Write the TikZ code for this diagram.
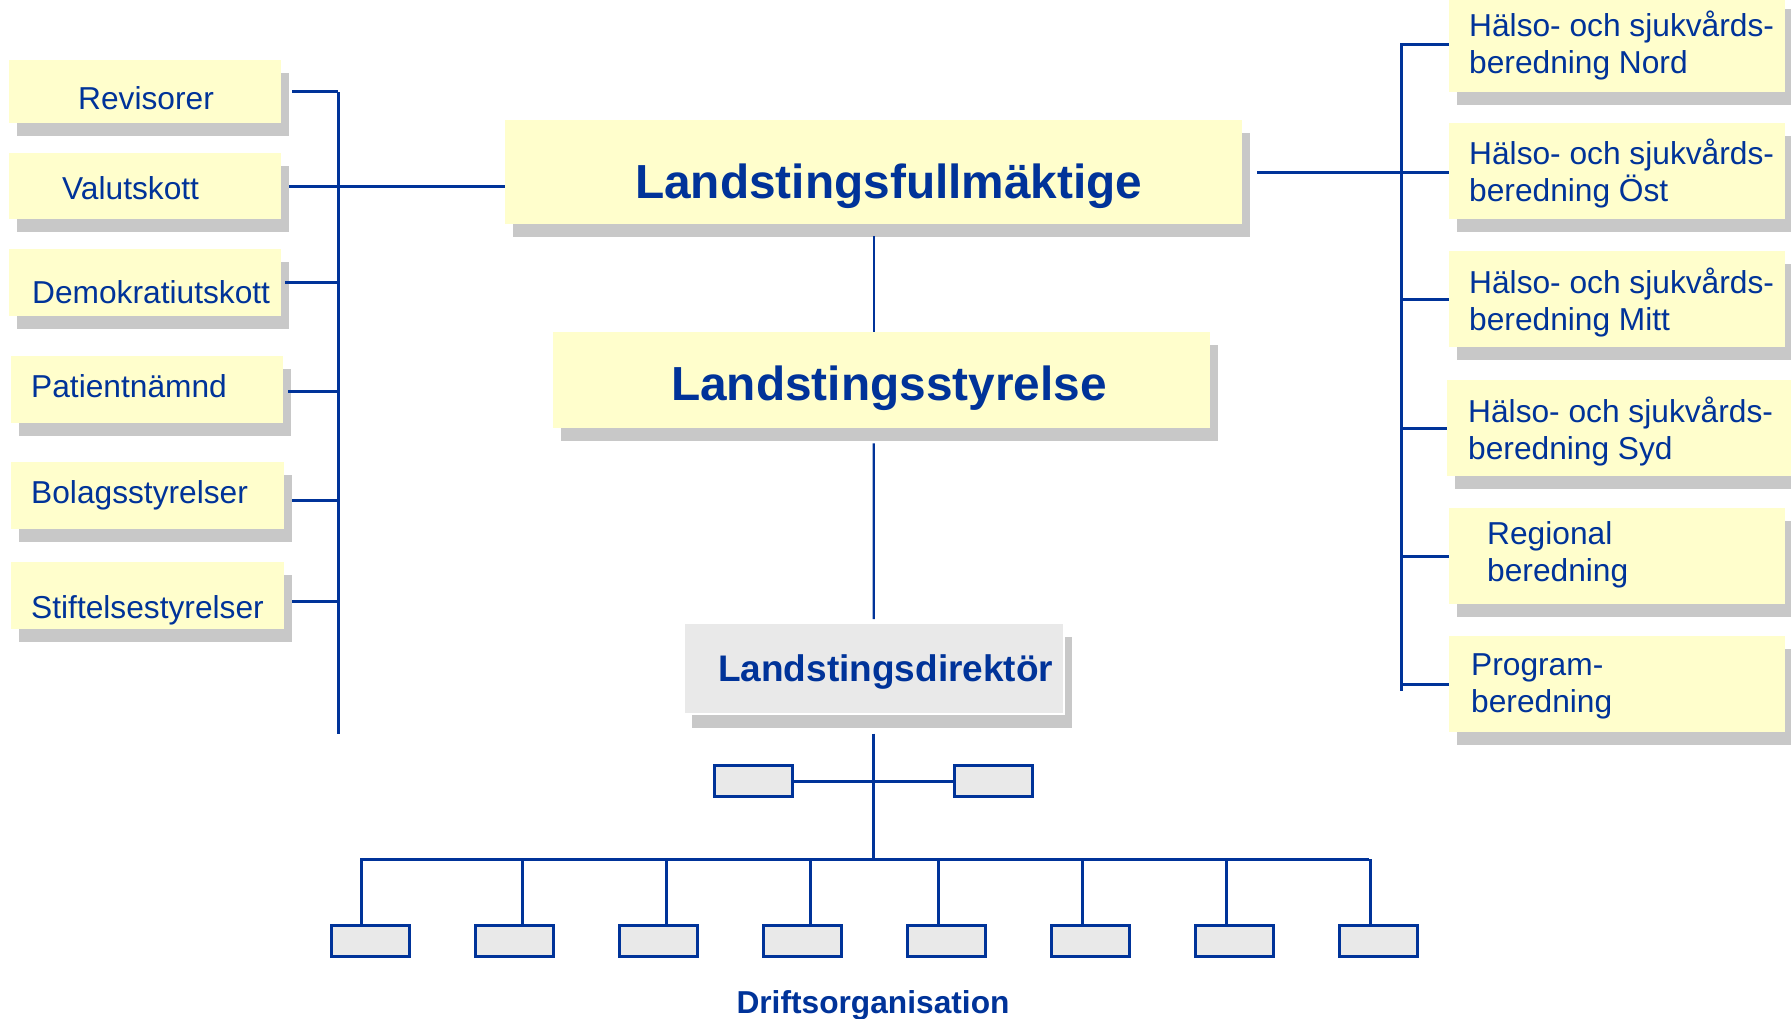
\documentclass[tikz,border=0pt]{standalone}
\usepackage{fontspec}
\setmainfont{Liberation Sans}
\usetikzlibrary{shadows,calc}
\definecolor{boxyel}{RGB}{255,254,204}
\definecolor{shd}{RGB}{200,200,200}
\definecolor{dblue}{RGB}{0,51,153}
\definecolor{ldgray}{RGB}{233,233,233}
\tikzset{
 ybox/.style={fill=boxyel, inner sep=0pt, anchor=north west,
   drop shadow={shadow xshift=8pt, shadow yshift=-13pt, fill=shd, opacity=1}},
 txt/.style={text=dblue, inner sep=0pt, anchor=base west, align=left,
   font=\fontsize{31.7}{37.5}\selectfont},
 bigtxt/.style={text=dblue, inner sep=0pt, anchor=base west,
   font=\fontsize{47.8}{50}\selectfont\bfseries},
 conn/.style={draw=dblue, line width=3pt},
 thinconn/.style={draw=dblue, line width=2.3pt},
 sbox/.style={draw=dblue, fill=ldgray, line width=3pt, minimum width=78pt,
   minimum height=31pt, inner sep=0pt, anchor=north west},
}
\begin{document}
\begin{tikzpicture}[x=1pt,y=-1pt]
\useasboundingbox (0,0) rectangle (1791,1018);
\clip (0,0) rectangle (1791,1018);
% left boxes
\node[ybox, minimum width=272pt, minimum height=63pt] (rev) at (9,60) {};
\node[ybox, minimum width=272pt, minimum height=66pt] (val) at (9,153) {};
\node[ybox, minimum width=272pt, minimum height=67pt] (dem) at (9,249) {};
\node[ybox, minimum width=272pt, minimum height=67pt] (pat) at (11,356) {};
\node[ybox, minimum width=273pt, minimum height=67pt] (bol) at (11,462) {};
\node[ybox, minimum width=273pt, minimum height=67pt] (sti) at (11,562) {};
\node[txt] (trev) at (78,109) {Revisorer};
\node[txt] (tval) at (62,199) {Valutskott};
\node[txt] (tdem) at (32,303) {Demokratiutskott};
\node[txt] (tpat) at (31,397) {Patientnämnd};
\node[txt] (tbol) at (31,503) {Bolagsstyrelser};
\node[txt] (tsti) at (31,618) {Stiftelsestyrelser};
% right boxes
\node[ybox, minimum width=336pt, minimum height=96pt] (nord) at (1449,-4) {};
\node[ybox, minimum width=336pt, minimum height=96pt] (ost) at (1449,123) {};
\node[ybox, minimum width=336pt, minimum height=96pt] (mitt) at (1449,251) {};
\node[ybox, minimum width=360pt, minimum height=96pt] (syd) at (1447,380) {};
\node[ybox, minimum width=336pt, minimum height=96pt] (reg) at (1449,508) {};
\node[ybox, minimum width=336pt, minimum height=96pt] (prog) at (1449,636) {};
\node[txt] (tnord) at (1469,73.5) {Hälso- och sjukvårds-\\beredning Nord};
\node[txt] (tost) at (1469,201.5) {Hälso- och sjukvårds-\\beredning Öst};
\node[txt] (tmitt) at (1469,330.5) {Hälso- och sjukvårds-\\beredning Mitt};
\node[txt] (tsyd) at (1468,459.5) {Hälso- och sjukvårds-\\beredning Syd};
\node[txt] (treg) at (1487,581.5) {Regional\\beredning};
\node[txt] (tprog) at (1471,712.5) {Program-\\beredning};
% centre
\node[ybox, minimum width=737pt, minimum height=104pt] (LF) at (505,120) {};
\node[ybox, minimum width=657pt, minimum height=96pt] (LS) at (553,332) {};
\node[fill=ldgray, draw=white, line width=1.5pt, inner sep=0pt, anchor=north west,
  minimum width=380pt, minimum height=91pt,
  drop shadow={shadow xshift=8pt, shadow yshift=-14pt, fill=shd, opacity=1}] (LD) at (683,622) {};
\node[bigtxt] (tLF) at (635,198) {Landstingsfullmäktige};
\node[bigtxt] (tLS) at (671,400) {Landstingsstyrelse};
\node[text=dblue, inner sep=0pt, anchor=base west, font=\fontsize{37}{40}\selectfont\bfseries] (tLD) at (718,681) {Landstingsdirektör};
\node[text=dblue, inner sep=0pt, anchor=base, font=\fontsize{31.7}{34}\selectfont\bfseries] (tDO) at (873,1013) {Driftsorganisation};
% left bus
\coordinate (lbT) at (338,92);
\coordinate (lbB) at (338,734);
\draw[conn] (lbT) -- (lbB);
\draw[conn] ([xshift=11pt]rev.east) -- (rev.east -| lbT);
\draw[conn] ([xshift=8pt]val.east) -- (val.east -| LF.west);
\draw[conn] ([xshift=4pt]dem.east) -- (dem.east -| lbT);
\draw[conn] ([xshift=5pt,yshift=-1.5pt]pat.east) -- ([yshift=-1.5pt]pat.east -| lbT);
\draw[conn] ([xshift=8pt,yshift=-5pt]bol.east) -- ([yshift=-5pt]bol.east -| lbT);
\draw[conn] ([xshift=8pt,yshift=-6pt]sti.east) -- ([yshift=-6pt]sti.east -| lbT);
% right bus
\coordinate (rbT) at (1401,43);
\coordinate (rbB) at (1401,691);
\draw[conn] (rbT) -- (rbB);
\draw[conn] (nord.west -| rbT) -- (nord.west);
\draw[conn] ([xshift=15pt]LF.east) -- (LF.east -| ost.west);
\draw[conn] (mitt.west -| rbT) -- (mitt.west);
\draw[conn] (syd.west -| rbT) -- (syd.west);
\draw[conn] (reg.west -| rbT) -- (reg.west);
\draw[conn] (prog.west -| rbT) -- (prog.west);
% spine
\draw[thinconn] ([yshift=-12pt]LF.south) -- (LS.north -| LF.south);
\draw[thinconn] ([yshift=-15pt]LS.south -| LF.south) -- ([yshift=3pt]LD.north);
\coordinate (bbL) at (360,859);
\coordinate (bbR) at (1369,859);
\draw[conn] ([yshift=-19pt]LD.south) -- (LD.south |- bbL);
\draw[conn] (bbL) -- (bbR);
\node[sbox] (m1) at (713,764) {};
\node[sbox] (m2) at (953,764) {};
\draw[conn] (m1.east) -- (m2.west);
\foreach \i/\dx in {1/-9,2/8,3/8,4/8,5/-8,6/-8,7/-8,8/-8} {
  \node[sbox] (b\i) at ({330+144*(\i-1)},924) {};
  \coordinate (d\i) at ([xshift=\dx pt]b\i.north);
  \draw[conn] (d\i |- bbL) -- (d\i);
}
\end{tikzpicture}
\end{document}
